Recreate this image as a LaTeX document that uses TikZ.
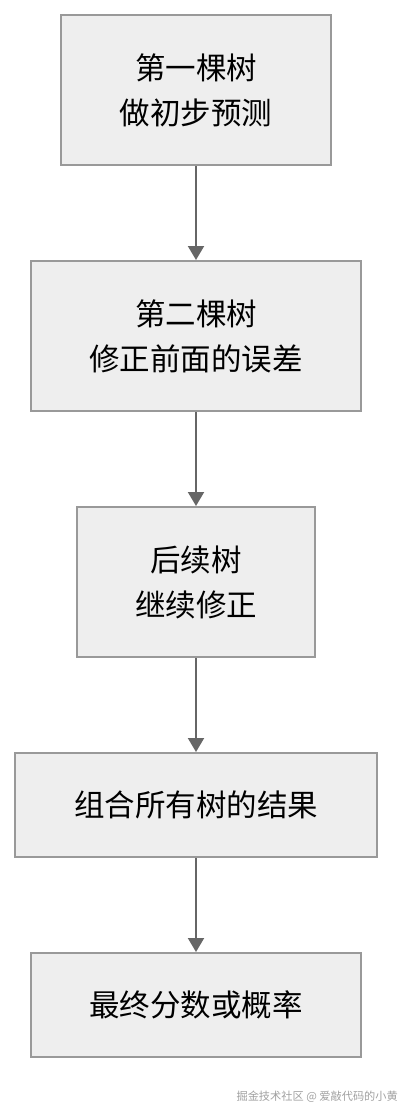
\documentclass[tikz,border=0pt]{standalone}
\usepackage{fontspec}
\setmainfont{Noto Sans CJK SC}
\usetikzlibrary{arrows.meta}
\definecolor{boxfill}{HTML}{EEEEEE}
\definecolor{boxline}{HTML}{999999}
\definecolor{arrowcol}{HTML}{666666}
\definecolor{wmcol}{HTML}{A0A0A0}
\tikzset{
  stepbox/.style={draw=boxline, line width=2pt, fill=boxfill, rectangle, inner sep=0pt,
    align=center, font=\fontsize{30.5}{45}\selectfont, text=black},
  flowarrow/.style={draw=arrowcol, line width=2pt, -{Triangle[length=14pt,width=16pt]}, shorten >=0pt},
}
\begin{document}
\begin{tikzpicture}[x=1pt,y=-1pt]
\useasboundingbox (0,0) rectangle (408,1116);
\node[stepbox, minimum width=270pt, minimum height=150pt] (b1) at (196,90) {第一棵树\\做初步预测};
\node[stepbox, minimum width=330pt, minimum height=150pt] (b2) at (196,336) {第二棵树\\修正前面的误差};
\node[stepbox, minimum width=238pt, minimum height=150pt] (b3) at (196,582) {后续树\\继续修正};
\node[stepbox, minimum width=362pt, minimum height=104pt] (b4) at (196,805) {组合所有树的结果};
\node[stepbox, minimum width=330pt, minimum height=104pt] (b5) at (196,1005) {最终分数或概率};
\draw[flowarrow] (b1.south) -- (b2.north);
\draw[flowarrow] (b2.south) -- (b3.north);
\draw[flowarrow] (b3.south) -- (b4.north);
\draw[flowarrow] (b4.south) -- (b5.north);
\node[anchor=east, inner sep=0pt, text=wmcol, font=\fontsize{11.2}{14}\selectfont] (wm) at (398,1097) {掘金技术社区 @ 爱敲代码的小黄};
\end{tikzpicture}
\end{document}
